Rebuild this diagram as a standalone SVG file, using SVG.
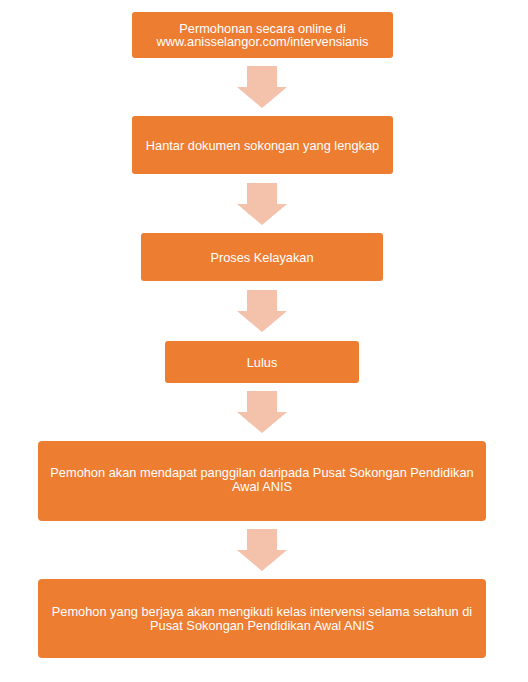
<svg xmlns="http://www.w3.org/2000/svg" width="528" height="682" viewBox="0 0 528 682">
<style>
.box{fill:#ED7D31;}
.arr{fill:#F4C1AB;}
text{font-family:"Liberation Sans",Arial,sans-serif;font-size:12.8px;fill:#FFFFFF;text-anchor:middle;}
</style>
<rect width="528" height="682" fill="#FFFFFF"/>
<g id="connectors">
<polygon class="arr" points="247,66 277,66 277,87 287,87 262,108 237,87 247,87"/>
<polygon class="arr" points="247,183 277,183 277,204 287,204 262,225 237,204 247,204"/>
<polygon class="arr" points="247,290 277,290 277,311 287,311 262,332 237,311 247,311"/>
<polygon class="arr" points="247,391 277,391 277,412 287,412 262,433 237,412 247,412"/>
<polygon class="arr" points="247,529 277,529 277,550 287,550 262,571 237,550 247,550"/>
</g>
<g id="n1">
<rect class="box" x="132" y="12" width="261" height="46" rx="3"/>
<text x="262.5" y="32.5">Permohonan secara online di</text>
<text x="262.5" y="46">www.anisselangor.com/intervensianis</text>
</g>
<g id="n2">
<rect class="box" x="132" y="116" width="261" height="58" rx="3"/>
<text x="262.5" y="149.5">Hantar dokumen sokongan yang lengkap</text>
</g>
<g id="n3">
<rect class="box" x="141" y="233" width="242" height="48" rx="3"/>
<text x="262" y="262">Proses Kelayakan</text>
</g>
<g id="n4">
<rect class="box" x="165" y="341" width="194" height="42" rx="3"/>
<text x="262" y="366.5">Lulus</text>
</g>
<g id="n5">
<rect class="box" x="38" y="441" width="448" height="80" rx="4"/>
<text x="262" y="477">Pemohon akan mendapat panggilan daripada Pusat Sokongan Pendidikan</text>
<text x="262" y="490.5">Awal ANIS</text>
</g>
<g id="n6">
<rect class="box" x="38" y="579" width="448" height="79" rx="4"/>
<text x="262" y="616">Pemohon yang berjaya akan mengikuti kelas intervensi selama setahun di</text>
<text x="262" y="629.5">Pusat Sokongan Pendidikan Awal ANIS</text>
</g>
</svg>
